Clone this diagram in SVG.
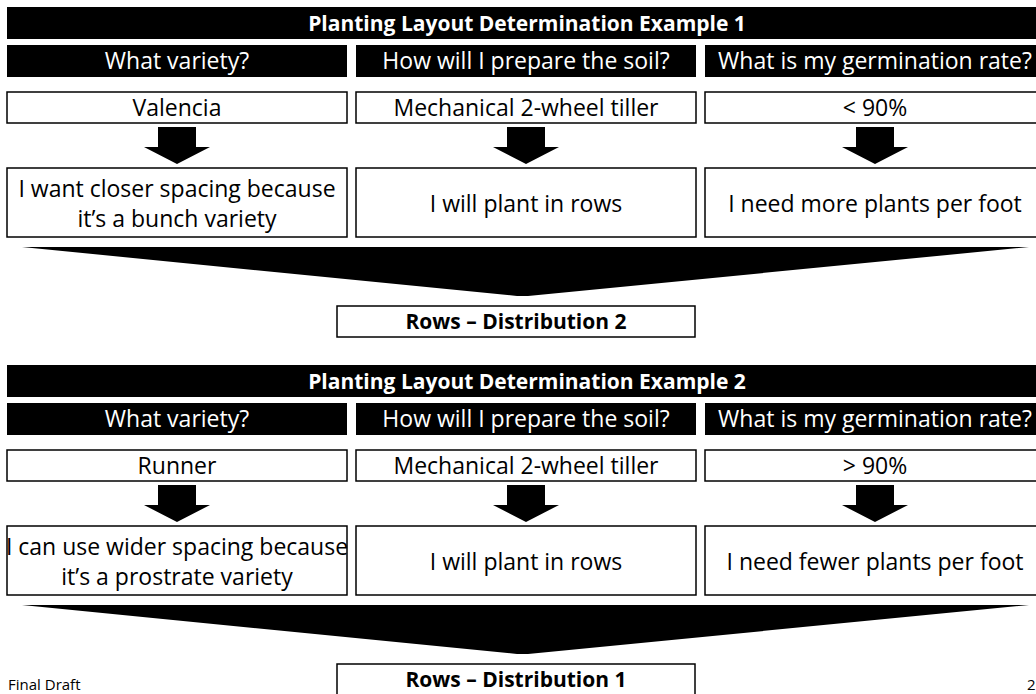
<svg xmlns="http://www.w3.org/2000/svg" width="1036" height="694" viewBox="0 0 1036 694">
<defs>
<style>
.bar{fill:#000}
.box{fill:#fff;stroke:#000;stroke-width:1.5}
.t{font-family:"Open Sans","Liberation Sans",sans-serif;font-size:23px;fill:#000;text-anchor:middle}
.w{fill:#fff}
.b{font-weight:bold;font-size:21px}
.arrow{fill:#000}
.small{font-family:"Open Sans","Liberation Sans",sans-serif;font-size:15px;fill:#000}
</style>
<path id="dn" d="M-19,0 H19 V20 H33 L0,37 L-33,20 H-19 Z"/>
</defs>
<rect width="1036" height="694" fill="#fff"/>

<!-- Example 1 -->
<g id="ex1">
<g id="title1"><rect class="bar" x="7" y="7" width="1040" height="32"/><text class="t w b" x="527" y="31">Planting Layout Determination Example 1</text></g>
<g id="q1a"><rect class="bar" x="7" y="45" width="340" height="32"/><text class="t w" x="177" y="69">What variety?</text></g>
<g id="q1b"><rect class="bar" x="356" y="45" width="340" height="32"/><text class="t w" x="526" y="69">How will I prepare the soil?</text></g>
<g id="q1c"><rect class="bar" x="705" y="45" width="340" height="32"/><text class="t w" x="875" y="69">What is my germination rate?</text></g>
<g id="a1a"><rect class="box" x="7" y="92" width="340" height="31"/><text class="t" x="177" y="116">Valencia</text></g>
<g id="a1b"><rect class="box" x="356" y="92" width="340" height="31"/><text class="t" x="526" y="116">Mechanical 2-wheel tiller</text></g>
<g id="a1c"><rect class="box" x="705" y="92" width="340" height="31"/><text class="t" x="875" y="116">&lt; 90%</text></g>
<g id="r1a"><rect class="box" x="7" y="168" width="340" height="69"/><text class="t" x="177" y="197">I want closer spacing because</text><text class="t" x="177" y="227">it’s a bunch variety</text></g>
<g id="r1b"><rect class="box" x="356" y="168" width="340" height="69"/><text class="t" x="526" y="212">I will plant in rows</text></g>
<g id="r1c"><rect class="box" x="705" y="168" width="340" height="69"/><text class="t" x="875" y="212">I need more plants per foot</text></g>
<g id="res1"><rect class="box" x="337" y="306" width="358" height="31"/><text class="t b" x="516" y="329">Rows – Distribution 2</text></g>
</g>

<!-- Example 2 -->
<g id="ex2" transform="translate(0,358)">
<g id="title2"><rect class="bar" x="7" y="7" width="1040" height="32"/><text class="t w b" x="527" y="31">Planting Layout Determination Example 2</text></g>
<g id="q2a"><rect class="bar" x="7" y="45" width="340" height="32"/><text class="t w" x="177" y="69">What variety?</text></g>
<g id="q2b"><rect class="bar" x="356" y="45" width="340" height="32"/><text class="t w" x="526" y="69">How will I prepare the soil?</text></g>
<g id="q2c"><rect class="bar" x="705" y="45" width="340" height="32"/><text class="t w" x="875" y="69">What is my germination rate?</text></g>
<g id="a2a"><rect class="box" x="7" y="92" width="340" height="31"/><text class="t" x="177" y="116">Runner</text></g>
<g id="a2b"><rect class="box" x="356" y="92" width="340" height="31"/><text class="t" x="526" y="116">Mechanical 2-wheel tiller</text></g>
<g id="a2c"><rect class="box" x="705" y="92" width="340" height="31"/><text class="t" x="875" y="116">&gt; 90%</text></g>
<g id="r2a"><rect class="box" x="7" y="168" width="340" height="69"/><text class="t" x="177" y="197">I can use wider spacing because</text><text class="t" x="177" y="227">it’s a prostrate variety</text></g>
<g id="r2b"><rect class="box" x="356" y="168" width="340" height="69"/><text class="t" x="526" y="212">I will plant in rows</text></g>
<g id="r2c"><rect class="box" x="705" y="168" width="340" height="69"/><text class="t" x="875" y="212">I need fewer plants per foot</text></g>
<g id="res2"><rect class="box" x="337" y="306" width="358" height="31"/><text class="t b" x="516" y="329">Rows – Distribution 1</text></g>
</g>

<!-- Connectors -->
<g id="connectors" class="arrow">
<use href="#dn" x="177" y="127"/>
<use href="#dn" x="526" y="127"/>
<use href="#dn" x="875" y="127"/>
<polygon points="22,247 1029,247 528,296 517,296"/>
<use href="#dn" x="177" y="485"/>
<use href="#dn" x="526" y="485"/>
<use href="#dn" x="875" y="485"/>
<polygon points="22,605 1029,605 528,654 517,654"/>
</g>

<g id="footer">
<text class="small" x="8" y="690">Final Draft</text>
<text class="small" x="1027" y="690">2</text>
</g>
</svg>
